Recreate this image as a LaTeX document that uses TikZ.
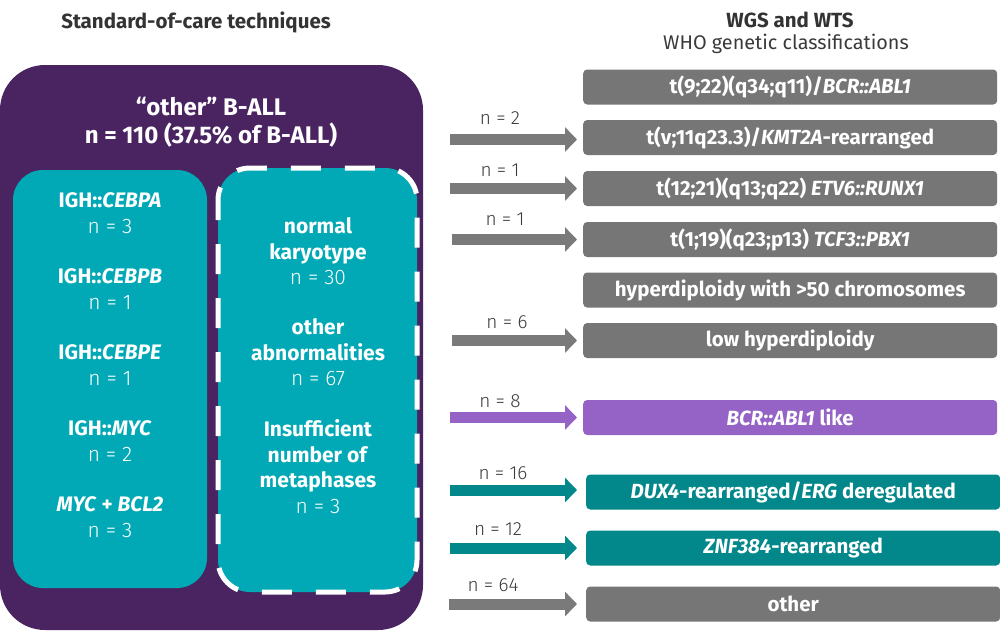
\documentclass[tikz,border=0pt]{standalone}
\usepackage{fontspec}
\setmainfont{Fira Sans}
\newfontfamily\lightfont{Fira Sans Light}
\usetikzlibrary{arrows.meta}
\definecolor{dpurple}{HTML}{4A2461}
\definecolor{lteal}{HTML}{00A9B5}
\definecolor{bgray}{HTML}{767676}
\definecolor{agray}{HTML}{7A7A7A}
\definecolor{lpurple}{HTML}{9563C5}
\definecolor{dteal}{HTML}{02878B}
\definecolor{tgray}{HTML}{333333}
\definecolor{lgray}{HTML}{3A3A3A}
\begin{document}
\begin{tikzpicture}[x=1pt,y=-1pt,
  head/.style={text=tgray,font=\bfseries\fontsize{20.5}{22}\selectfont},
  btext/.style={text=white,align=center,font=\fontsize{21}{26}\selectfont},
  rbox/.style={fill=bgray,rounded corners=4pt,text=white,font=\bfseries\fontsize{20.5}{22}\selectfont,
    minimum height=35pt,minimum width=414pt,inner sep=0pt,anchor=west},
  arr/.style={line width=11pt,draw=agray,-{Triangle[length=12pt,width=24pt]},shorten >=6pt},
  nlab/.style={text=lgray,font=\lightfont\fontsize{19}{20}\selectfont}]
\useasboundingbox (0,0) rectangle (1000,632);
% headers
\node[head] (h1) at (196,22) {Standard-of-care techniques};
\node[head] (h2) at (790,20) {WGS and WTS};
\node[text=lgray,font=\fontsize{19.8}{22}\selectfont] (h3) at (786,44) {WHO genetic classifications};
% left panel
\fill[dpurple,rounded corners=45pt] (0,65) rectangle (423,630);
\node[text=white,align=center,font=\bfseries\fontsize{24}{28}\selectfont] (ttl) at (211,122) {“other” B-ALL\\n = 110 (37.5\% of B-ALL)};
\fill[lteal,rounded corners=30pt] (13,170) rectangle (207,588);
\fill[lteal,rounded corners=32pt] (218,168) rectangle (417,592);
\draw[white,line width=5pt,dash pattern=on 30pt off 24pt,dash phase=10pt,rounded corners=32pt] (218,168) rectangle (417,592);
\node[btext] (l1) at (110,213.5) {\textbf{IGH::\textit{CEBPA}}\\{\lightfont n = 3}};
\node[btext] (l2) at (110,289) {\textbf{IGH::\textit{CEBPB}}\\{\lightfont n = 1}};
\node[btext] (l3) at (110,365) {\textbf{IGH::\textit{CEBPE}}\\{\lightfont n = 1}};
\node[btext] (l4) at (110,441) {\textbf{IGH::\textit{MYC}}\\{\lightfont n = 2}};
\node[btext] (l5) at (110,517) {\textbf{\textit{MYC} + \textit{BCL2}}\\{\lightfont n = 3}};
\node[btext,font=\fontsize{21}{25.5}\selectfont] (r1) at (318,251.5) {\textbf{normal}\\\textbf{karyotype}\\{\lightfont n = 30}};
\node[btext,font=\fontsize{21}{25.5}\selectfont] (r2) at (318,352.5) {\textbf{other}\\\textbf{abnormalities}\\{\lightfont n = 67}};
\node[btext,font=\fontsize{21}{25.5}\selectfont] (r3) at (318,466.5) {\textbf{Insufficient}\\\textbf{number of}\\\textbf{metaphases}\\{\lightfont n = 3}};
% right boxes
\node[rbox] (b1) at (583,87) {t(9;22)(q34;q11)/\textit{BCR::ABL1}};
\node[rbox] (b2) at (583,137.5) {t(v;11q23.3)/\textit{KMT2A}-rearranged};
\node[rbox] (b3) at (583,188.5) {t(12;21)(q13;q22) \textit{ETV6::RUNX1}};
\node[rbox] (b4) at (583,239.5) {t(1;19)(q23;p13) \textit{TCF3::PBX1}};
\node[rbox] (b5) at (583,290) {hyperdiploidy with >50 chromosomes};
\node[rbox] (b6) at (583,340.5) {low hyperdiploidy};
\node[rbox,fill=lpurple] (b7) at (583,417.5) {\textit{BCR::ABL1} like};
\node[rbox,fill=dteal] (b8) at (586,492) {\textit{DUX4}-rearranged/\textit{ERG} deregulated};
\node[rbox,fill=dteal] (b9) at (586,548) {\textit{ZNF384}-rearranged};
\node[rbox] (b10) at (586,604) {other};
% arrows
\coordinate (s2) at (450,139.5);
\coordinate (s3) at (450,188.5);
\coordinate (s4) at (452,239.5);
\coordinate (s6) at (452,340.5);
\coordinate (s7) at (450,417.5);
\coordinate (s8) at (450,490);
\coordinate (s9) at (450,548);
\coordinate (s10) at (449,604);
\draw[arr] (s2) -- (s2 -| b2.west);
\draw[arr] (s3) -- (s3 -| b3.west);
\draw[arr] (s4) -- (s4 -| b4.west);
\draw[arr] (s6) -- (s6 -| b6.west);
\draw[arr,draw=lpurple] (s7) -- (s7 -| b7.west);
\draw[arr,draw=dteal] (s8) -- ([xshift=-3pt]s8 -| b8.west);
\draw[arr,draw=dteal] (s9) -- ([xshift=-3pt]s9 -| b9.west);
\draw[arr] (s10) -- ([xshift=-3pt]s10 -| b10.west);
% labels
\node[nlab] (n2) at (500,118) {n = 2};
\node[nlab] (n3) at (500,170) {n = 1};
\node[nlab] (n4) at (505,219) {n = 1};
\node[nlab] (n6) at (507,322) {n = 6};
\node[nlab] (n7) at (500,401) {n = 8};
\node[nlab] (n8) at (503,473) {n = 16};
\node[nlab] (n9) at (498,529) {n = 12};
\node[nlab] (n10) at (493,585) {n = 64};
\end{tikzpicture}
\end{document}
